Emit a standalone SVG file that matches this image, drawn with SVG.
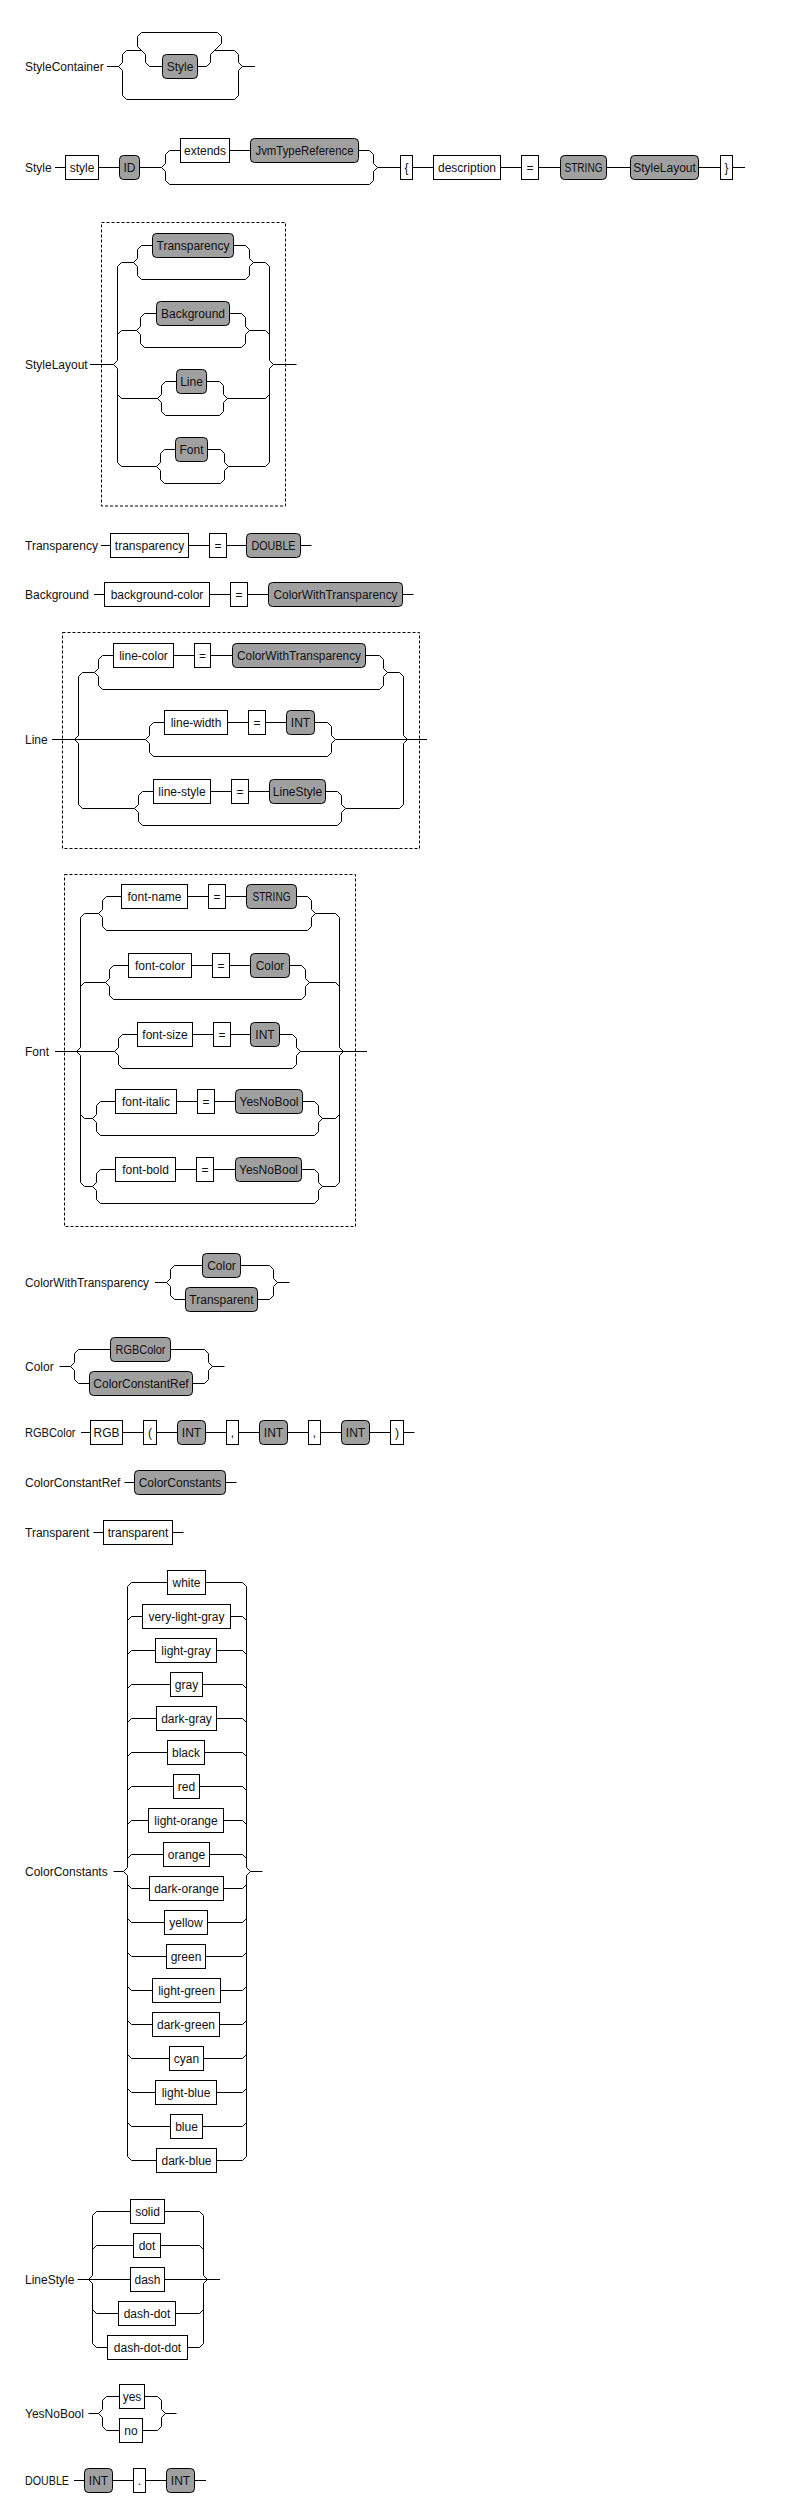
<svg xmlns="http://www.w3.org/2000/svg" width="786" height="2513" viewBox="0 0 786 2513">
<style>
text{font-family:"Liberation Sans",Arial,sans-serif;font-size:12px;fill:#111}
.m{text-anchor:middle}
.t{fill:#fff;stroke:#000;stroke-width:1}
.n{fill:#a0a0a0;stroke:#000;stroke-width:1}
.w{fill:none;stroke:#000;stroke-width:1}
.f{fill:none;stroke:#000;stroke-width:1;stroke-dasharray:3 2}
</style>
<rect x="0" y="0" width="786" height="2513" fill="#fff"/>
<g id="frames">
<rect class="f" x="101.5" y="222.5" width="184" height="283.5"/>
<rect class="f" x="62.5" y="632.5" width="357" height="216"/>
<rect class="f" x="64.5" y="874.5" width="291" height="352"/>
</g>
<g id="labels">
<text x="25" y="70.5">StyleContainer</text>
<text x="25" y="171.5">Style</text>
<text x="25" y="368.5">StyleLayout</text>
<text x="25" y="549.5">Transparency</text>
<text x="25" y="598.5">Background</text>
<text x="25" y="743.5">Line</text>
<text x="25" y="1055.5">Font</text>
<text x="25" y="1286.5" textLength="124" lengthAdjust="spacingAndGlyphs">ColorWithTransparency</text>
<text x="25" y="1370.5">Color</text>
<text x="25" y="1436.5" textLength="50.5" lengthAdjust="spacingAndGlyphs">RGBColor</text>
<text x="25" y="1486.5">ColorConstantRef</text>
<text x="25" y="1536.5">Transparent</text>
<text x="25" y="1875.5">ColorConstants</text>
<text x="25" y="2283.5">LineStyle</text>
<text x="25" y="2417.5">YesNoBool</text>
<text x="25" y="2484.5" textLength="44" lengthAdjust="spacingAndGlyphs">DOUBLE</text>
</g>
<g id="connectors" class="w">
<path class="w" d="M107,66.5 H118.5 L122.5,62.5 V54.5 L126.5,50.5 H141.5 M118.5,66.5 L122.5,70.5 V95.5 L126.5,99.5 H234.5 L238.5,95.5 V70.5 L242.5,66.5 H255 M141.5,32.5 L137.5,36.5 V46.5 L145.5,54.5 V62.5 L149.5,66.5 H206.5 L210.5,62.5 V54.5 L221.5,43.5 V36.5 L217.5,32.5 H141.5 M214.5,50.5 H234.5 L238.5,54.5 V62.5 L242.5,66.5"/>
<path class="w" d="M55,167.5 H161.5 M161.5,167.5 L165.5,163.5 V154.5 L169.5,150.5 H369.5 L373.5,154.5 V163.5 L377.5,167.5 H745 M161.5,167.5 L165.5,171.5 V180.5 L169.5,184.5 H369.5 L373.5,180.5 V171.5 L377.5,167.5"/>
<path class="w" d="M90,364.5 H113.5 L117.5,360.5 V266.5 L121.5,262.5 H133.5 L137.5,258.5 V249.5 L141.5,245.5 H245.5 L249.5,249.5 V258.5 L253.5,262.5 H265.5 L269.5,266.5 V360.5 L273.5,364.5 H296.5 M133.5,262.5 L137.5,266.5 V275.5 L141.5,279.5 H245.5 L249.5,275.5 V266.5 L253.5,262.5 M117.5,334.5 L121.5,330.5 H136.5 L140.5,326.5 V317.5 L144.5,313.5 H241.5 L245.5,317.5 V326.5 L249.5,330.5 H265.5 L269.5,334.5 M136.5,330.5 L140.5,334.5 V343.5 L144.5,347.5 H241.5 L245.5,343.5 V334.5 L249.5,330.5 M117.5,394.5 L121.5,398.5 H157.5 L161.5,394.5 V385.5 L165.5,381.5 H219.5 L223.5,385.5 V394.5 L227.5,398.5 H265.5 L269.5,394.5 M157.5,398.5 L161.5,402.5 V411.5 L165.5,415.5 H219.5 L223.5,411.5 V402.5 L227.5,398.5 M113.5,364.5 L117.5,368.5 V462.5 L121.5,466.5 H156.5 L160.5,462.5 V453.5 L164.5,449.5 H220.5 L224.5,453.5 V462.5 L228.5,466.5 H265.5 L269.5,462.5 V368.5 L273.5,364.5 M156.5,466.5 L160.5,470.5 V479.5 L164.5,483.5 H220.5 L224.5,479.5 V470.5 L228.5,466.5"/>
<path class="w" d="M101,545.5 H311.5 M94,594.5 H413.5"/>
<path class="w" d="M52,739.5 H74.5 L78.5,735.5 V676.5 L82.5,672.5 H94.5 L98.5,668.5 V659.5 L102.5,655.5 H379.5 L383.5,659.5 V668.5 L387.5,672.5 H399.5 L403.5,676.5 V735.5 L407.5,739.5 H427 M94.5,672.5 L98.5,676.5 V685.5 L102.5,689.5 H379.5 L383.5,685.5 V676.5 L387.5,672.5 M74.5,739.5 H145.5 L149.5,735.5 V726.5 L153.5,722.5 H327.5 L331.5,726.5 V735.5 L335.5,739.5 H407.5 M145.5,739.5 L149.5,743.5 V752.5 L153.5,756.5 H327.5 L331.5,752.5 V743.5 L335.5,739.5 M74.5,739.5 L78.5,743.5 V804.5 L82.5,808.5 H134.5 L138.5,804.5 V795.5 L142.5,791.5 H337.5 L341.5,795.5 V804.5 L345.5,808.5 H399.5 L403.5,804.5 V743.5 L407.5,739.5 M134.5,808.5 L138.5,812.5 V821.5 L142.5,825.5 H337.5 L341.5,821.5 V812.5 L345.5,808.5"/>
<path class="w" d="M55,1051.5 H76.5 L80.5,1047.5 V917.5 L84.5,913.5 H98.5 L102.5,909.5 V900.5 L106.5,896.5 H307.5 L311.5,900.5 V909.5 L315.5,913.5 H335.5 L339.5,917.5 V1047.5 L343.5,1051.5 H367 M98.5,913.5 L102.5,917.5 V926.5 L106.5,930.5 H307.5 L311.5,926.5 V917.5 L315.5,913.5 M80.5,986.5 L84.5,982.5 H105.5 L109.5,978.5 V969.5 L113.5,965.5 H301.5 L305.5,969.5 V978.5 L309.5,982.5 H335.5 L339.5,986.5 M105.5,982.5 L109.5,986.5 V995.5 L113.5,999.5 H301.5 L305.5,995.5 V986.5 L309.5,982.5 M76.5,1051.5 H114.5 L118.5,1047.5 V1038.5 L122.5,1034.5 H292.5 L296.5,1038.5 V1047.5 L300.5,1051.5 H343.5 M114.5,1051.5 L118.5,1055.5 V1064.5 L122.5,1068.5 H292.5 L296.5,1064.5 V1055.5 L300.5,1051.5 M80.5,1114.5 L84.5,1118.5 H92.5 L96.5,1114.5 V1105.5 L100.5,1101.5 H314.5 L318.5,1105.5 V1114.5 L322.5,1118.5 H335.5 L339.5,1114.5 M92.5,1118.5 L96.5,1122.5 V1131.5 L100.5,1135.5 H314.5 L318.5,1131.5 V1122.5 L322.5,1118.5 M76.5,1051.5 L80.5,1055.5 V1182.5 L84.5,1186.5 H92.5 L96.5,1182.5 V1173.5 L100.5,1169.5 H314.5 L318.5,1173.5 V1182.5 L322.5,1186.5 H335.5 L339.5,1182.5 V1055.5 L343.5,1051.5 M92.5,1186.5 L96.5,1190.5 V1199.5 L100.5,1203.5 H314.5 L318.5,1199.5 V1190.5 L322.5,1186.5"/>
<path class="w" d="M155,1282.5 H166.5 L170.5,1278.5 V1269.5 L174.5,1265.5 H269.5 L273.5,1269.5 V1278.5 L277.5,1282.5 H289.5 M166.5,1282.5 L170.5,1286.5 V1295.5 L174.5,1299.5 H269.5 L273.5,1295.5 V1286.5 L277.5,1282.5"/>
<path class="w" d="M59.5,1366.5 H70.5 L74.5,1362.5 V1353.5 L78.5,1349.5 H204.5 L208.5,1353.5 V1362.5 L212.5,1366.5 H224.5 M70.5,1366.5 L74.5,1370.5 V1379.5 L78.5,1383.5 H204.5 L208.5,1379.5 V1370.5 L212.5,1366.5"/>
<path class="w" d="M81,1432.5 H414.5 M124.5,1482.5 H236.5 M93.5,1532.5 H183.5"/>
<path class="w" d="M113.5,1871.5 H123.5 L127.5,1867.5 V1586.5 L131.5,1582.5 H242.5 L246.5,1586.5 V1867.5 L250.5,1871.5 H262.5 M123.5,1871.5 L127.5,1875.5 V2156.5 L131.5,2160.5 H242.5 L246.5,2156.5 V1875.5 L250.5,1871.5 M127.5,1620.5 L131.5,1616.5 H242.5 L246.5,1620.5 M127.5,1654.5 L131.5,1650.5 H242.5 L246.5,1654.5 M127.5,1688.5 L131.5,1684.5 H242.5 L246.5,1688.5 M127.5,1722.5 L131.5,1718.5 H242.5 L246.5,1722.5 M127.5,1756.5 L131.5,1752.5 H242.5 L246.5,1756.5 M127.5,1790.5 L131.5,1786.5 H242.5 L246.5,1790.5 M127.5,1824.5 L131.5,1820.5 H242.5 L246.5,1824.5 M127.5,1858.5 L131.5,1854.5 H242.5 L246.5,1858.5 M127.5,1884.5 L131.5,1888.5 H242.5 L246.5,1884.5 M127.5,1918.5 L131.5,1922.5 H242.5 L246.5,1918.5 M127.5,1952.5 L131.5,1956.5 H242.5 L246.5,1952.5 M127.5,1986.5 L131.5,1990.5 H242.5 L246.5,1986.5 M127.5,2020.5 L131.5,2024.5 H242.5 L246.5,2020.5 M127.5,2054.5 L131.5,2058.5 H242.5 L246.5,2054.5 M127.5,2088.5 L131.5,2092.5 H242.5 L246.5,2088.5 M127.5,2122.5 L131.5,2126.5 H242.5 L246.5,2122.5"/>
<path class="w" d="M77.5,2279.5 H220 M88.5,2279.5 L92.5,2275.5 V2215.5 L96.5,2211.5 H199.5 L203.5,2215.5 V2275.5 L207.5,2279.5 M88.5,2279.5 L92.5,2283.5 V2343.5 L96.5,2347.5 H199.5 L203.5,2343.5 V2283.5 L207.5,2279.5 M92.5,2249.5 L96.5,2245.5 H199.5 L203.5,2249.5 M92.5,2309.5 L96.5,2313.5 H199.5 L203.5,2309.5"/>
<path class="w" d="M88.5,2413.5 H98.5 L102.5,2409.5 V2400.5 L106.5,2396.5 H157.5 L161.5,2400.5 V2409.5 L165.5,2413.5 H176.5 M98.5,2413.5 L102.5,2417.5 V2426.5 L106.5,2430.5 H157.5 L161.5,2426.5 V2417.5 L165.5,2413.5 M74,2480.5 H206"/>
</g>
<g id="sc_style"><rect class="n" x="162.5" y="54.5" width="35" height="24" rx="4"/><text class="m" x="180" y="70.5">Style</text></g>
<g id="s_style"><rect class="t" x="65.5" y="155.5" width="33" height="24"/><text class="m" x="82" y="171.5">style</text></g>
<g id="s_id"><rect class="n" x="119.5" y="155.5" width="20" height="24" rx="4"/><text class="m" x="129.5" y="171.5">ID</text></g>
<g id="s_extends"><rect class="t" x="180.5" y="138.5" width="49" height="24"/><text class="m" x="205" y="154.5">extends</text></g>
<g id="s_jvm"><rect class="n" x="250.5" y="138.5" width="108" height="24" rx="4"/><text class="m" x="304.5" y="154.5" textLength="98" lengthAdjust="spacingAndGlyphs">JvmTypeReference</text></g>
<g id="s_lbrace"><rect class="t" x="400.5" y="155.5" width="12" height="24"/><text class="m" x="406.5" y="171.5">{</text></g>
<g id="s_desc"><rect class="t" x="433.5" y="155.5" width="67" height="24"/><text class="m" x="467" y="171.5">description</text></g>
<g id="s_eq"><rect class="t" x="521.5" y="155.5" width="17" height="24"/><text class="m" x="530" y="171.5">=</text></g>
<g id="s_string"><rect class="n" x="560.5" y="155.5" width="46" height="24" rx="4"/><text class="m" x="583.5" y="171.5" textLength="38" lengthAdjust="spacingAndGlyphs">STRING</text></g>
<g id="s_layout"><rect class="n" x="630.5" y="155.5" width="68" height="24" rx="4"/><text class="m" x="664.5" y="171.5">StyleLayout</text></g>
<g id="s_rbrace"><rect class="t" x="720.5" y="155.5" width="12" height="24"/><text class="m" x="726.5" y="171.5">}</text></g>
<g id="sl_transparency"><rect class="n" x="152.5" y="233.5" width="81" height="24" rx="4"/><text class="m" x="193" y="249.5">Transparency</text></g>
<g id="sl_background"><rect class="n" x="156.5" y="301.5" width="73" height="24" rx="4"/><text class="m" x="193" y="317.5">Background</text></g>
<g id="sl_line"><rect class="n" x="176.5" y="369.5" width="30" height="24" rx="4"/><text class="m" x="191.5" y="385.5">Line</text></g>
<g id="sl_font"><rect class="n" x="175.5" y="437.5" width="32" height="24" rx="4"/><text class="m" x="191.5" y="453.5">Font</text></g>
<g id="tr_kw"><rect class="t" x="110.5" y="533.5" width="78" height="24"/><text class="m" x="149.5" y="549.5">transparency</text></g>
<g id="tr_eq"><rect class="t" x="209.5" y="533.5" width="17" height="24"/><text class="m" x="218" y="549.5">=</text></g>
<g id="tr_double"><rect class="n" x="246.5" y="533.5" width="54" height="24" rx="4"/><text class="m" x="273.5" y="549.5" textLength="44" lengthAdjust="spacingAndGlyphs">DOUBLE</text></g>
<g id="bg_kw"><rect class="t" x="104.5" y="582.5" width="105" height="24"/><text class="m" x="157" y="598.5">background-color</text></g>
<g id="bg_eq"><rect class="t" x="230.5" y="582.5" width="17" height="24"/><text class="m" x="239" y="598.5">=</text></g>
<g id="bg_cwt"><rect class="n" x="268.5" y="582.5" width="134" height="24" rx="4"/><text class="m" x="335.5" y="598.5" textLength="124" lengthAdjust="spacingAndGlyphs">ColorWithTransparency</text></g>
<g id="ln_color"><rect class="t" x="113.5" y="643.5" width="60" height="24"/><text class="m" x="143.5" y="659.5">line-color</text></g>
<g id="ln_eq1"><rect class="t" x="194.5" y="643.5" width="16" height="24"/><text class="m" x="202.5" y="659.5">=</text></g>
<g id="ln_cwt"><rect class="n" x="232.5" y="643.5" width="133" height="24" rx="4"/><text class="m" x="299" y="659.5" textLength="124" lengthAdjust="spacingAndGlyphs">ColorWithTransparency</text></g>
<g id="ln_width"><rect class="t" x="164.5" y="710.5" width="63" height="24"/><text class="m" x="196" y="726.5">line-width</text></g>
<g id="ln_eq2"><rect class="t" x="248.5" y="710.5" width="17" height="24"/><text class="m" x="257" y="726.5">=</text></g>
<g id="ln_int"><rect class="n" x="286.5" y="710.5" width="28" height="24" rx="4"/><text class="m" x="300.5" y="726.5">INT</text></g>
<g id="ln_style"><rect class="t" x="153.5" y="779.5" width="57" height="24"/><text class="m" x="182" y="795.5">line-style</text></g>
<g id="ln_eq3"><rect class="t" x="231.5" y="779.5" width="17" height="24"/><text class="m" x="240" y="795.5">=</text></g>
<g id="ln_ls"><rect class="n" x="269.5" y="779.5" width="56" height="24" rx="4"/><text class="m" x="297.5" y="795.5">LineStyle</text></g>
<g id="f_name"><rect class="t" x="121.5" y="884.5" width="66" height="24"/><text class="m" x="154.5" y="900.5">font-name</text></g>
<g id="f_eq1"><rect class="t" x="208.5" y="884.5" width="17" height="24"/><text class="m" x="217" y="900.5">=</text></g>
<g id="f_string"><rect class="n" x="246.5" y="884.5" width="50" height="24" rx="4"/><text class="m" x="271.5" y="900.5" textLength="38" lengthAdjust="spacingAndGlyphs">STRING</text></g>
<g id="f_color"><rect class="t" x="128.5" y="953.5" width="63" height="24"/><text class="m" x="160" y="969.5">font-color</text></g>
<g id="f_eq2"><rect class="t" x="212.5" y="953.5" width="17" height="24"/><text class="m" x="221" y="969.5">=</text></g>
<g id="f_colornt"><rect class="n" x="250.5" y="953.5" width="39" height="24" rx="4"/><text class="m" x="270" y="969.5">Color</text></g>
<g id="f_size"><rect class="t" x="137.5" y="1022.5" width="55" height="24"/><text class="m" x="165" y="1038.5">font-size</text></g>
<g id="f_eq3"><rect class="t" x="213.5" y="1022.5" width="17" height="24"/><text class="m" x="222" y="1038.5">=</text></g>
<g id="f_int"><rect class="n" x="250.5" y="1022.5" width="29" height="24" rx="4"/><text class="m" x="265" y="1038.5">INT</text></g>
<g id="f_italic"><rect class="t" x="115.5" y="1089.5" width="61" height="24"/><text class="m" x="146" y="1105.5">font-italic</text></g>
<g id="f_eq4"><rect class="t" x="197.5" y="1089.5" width="17" height="24"/><text class="m" x="206" y="1105.5">=</text></g>
<g id="f_yn1"><rect class="n" x="235.5" y="1089.5" width="67" height="24" rx="4"/><text class="m" x="269" y="1105.5">YesNoBool</text></g>
<g id="f_bold"><rect class="t" x="115.5" y="1157.5" width="60" height="24"/><text class="m" x="145.5" y="1173.5">font-bold</text></g>
<g id="f_eq5"><rect class="t" x="196.5" y="1157.5" width="17" height="24"/><text class="m" x="205" y="1173.5">=</text></g>
<g id="f_yn2"><rect class="n" x="235.5" y="1157.5" width="66" height="24" rx="4"/><text class="m" x="268.5" y="1173.5">YesNoBool</text></g>
<g id="cwt_color"><rect class="n" x="202.5" y="1253.5" width="38" height="24" rx="4"/><text class="m" x="221.5" y="1269.5">Color</text></g>
<g id="cwt_transparent"><rect class="n" x="185.5" y="1287.5" width="72" height="24" rx="4"/><text class="m" x="221.5" y="1303.5">Transparent</text></g>
<g id="c_rgb"><rect class="n" x="110.5" y="1337.5" width="60" height="24" rx="4"/><text class="m" x="140.5" y="1353.5" textLength="50" lengthAdjust="spacingAndGlyphs">RGBColor</text></g>
<g id="c_ccr"><rect class="n" x="89.5" y="1371.5" width="103" height="24" rx="4"/><text class="m" x="141" y="1387.5">ColorConstantRef</text></g>
<g id="rgb_kw"><rect class="t" x="90.5" y="1420.5" width="32" height="24"/><text class="m" x="106.5" y="1436.5">RGB</text></g>
<g id="rgb_lp"><rect class="t" x="143.5" y="1420.5" width="13" height="24"/><text class="m" x="150" y="1436.5">(</text></g>
<g id="rgb_i1"><rect class="n" x="177.5" y="1420.5" width="28" height="24" rx="4"/><text class="m" x="191.5" y="1436.5">INT</text></g>
<g id="rgb_c1"><rect class="t" x="226.5" y="1420.5" width="12" height="24"/><text class="m" x="232.5" y="1436.5">,</text></g>
<g id="rgb_i2"><rect class="n" x="259.5" y="1420.5" width="28" height="24" rx="4"/><text class="m" x="273.5" y="1436.5">INT</text></g>
<g id="rgb_c2"><rect class="t" x="308.5" y="1420.5" width="12" height="24"/><text class="m" x="314.5" y="1436.5">,</text></g>
<g id="rgb_i3"><rect class="n" x="341.5" y="1420.5" width="28" height="24" rx="4"/><text class="m" x="355.5" y="1436.5">INT</text></g>
<g id="rgb_rp"><rect class="t" x="390.5" y="1420.5" width="13" height="24"/><text class="m" x="397" y="1436.5">)</text></g>
<g id="ccr_cc"><rect class="n" x="134.5" y="1470.5" width="91" height="24" rx="4"/><text class="m" x="180" y="1486.5">ColorConstants</text></g>
<g id="tp_kw"><rect class="t" x="103.5" y="1520.5" width="69" height="24"/><text class="m" x="138" y="1536.5">transparent</text></g>
<g id="cc_white"><rect class="t" x="167.5" y="1570.5" width="38" height="24"/><text class="m" x="186.5" y="1586.5">white</text></g>
<g id="cc_verylightgray"><rect class="t" x="142.5" y="1604.5" width="88" height="24"/><text class="m" x="186.5" y="1620.5">very-light-gray</text></g>
<g id="cc_lightgray"><rect class="t" x="155.5" y="1638.5" width="61" height="24"/><text class="m" x="186" y="1654.5">light-gray</text></g>
<g id="cc_gray"><rect class="t" x="170.5" y="1672.5" width="32" height="24"/><text class="m" x="186.5" y="1688.5">gray</text></g>
<g id="cc_darkgray"><rect class="t" x="156.5" y="1706.5" width="60" height="24"/><text class="m" x="186.5" y="1722.5">dark-gray</text></g>
<g id="cc_black"><rect class="t" x="167.5" y="1740.5" width="37" height="24"/><text class="m" x="186" y="1756.5">black</text></g>
<g id="cc_red"><rect class="t" x="173.5" y="1774.5" width="26" height="24"/><text class="m" x="186.5" y="1790.5">red</text></g>
<g id="cc_lightorange"><rect class="t" x="148.5" y="1808.5" width="75" height="24"/><text class="m" x="186" y="1824.5">light-orange</text></g>
<g id="cc_orange"><rect class="t" x="163.5" y="1842.5" width="46" height="24"/><text class="m" x="186.5" y="1858.5">orange</text></g>
<g id="cc_darkorange"><rect class="t" x="149.5" y="1876.5" width="74" height="24"/><text class="m" x="186.5" y="1892.5">dark-orange</text></g>
<g id="cc_yellow"><rect class="t" x="164.5" y="1910.5" width="43" height="24"/><text class="m" x="186" y="1926.5">yellow</text></g>
<g id="cc_green"><rect class="t" x="166.5" y="1944.5" width="39" height="24"/><text class="m" x="186" y="1960.5">green</text></g>
<g id="cc_lightgreen"><rect class="t" x="152.5" y="1978.5" width="68" height="24"/><text class="m" x="186.5" y="1994.5">light-green</text></g>
<g id="cc_darkgreen"><rect class="t" x="152.5" y="2012.5" width="67" height="24"/><text class="m" x="186" y="2028.5">dark-green</text></g>
<g id="cc_cyan"><rect class="t" x="169.5" y="2046.5" width="34" height="24"/><text class="m" x="186.5" y="2062.5">cyan</text></g>
<g id="cc_lightblue"><rect class="t" x="155.5" y="2080.5" width="61" height="24"/><text class="m" x="186" y="2096.5">light-blue</text></g>
<g id="cc_blue"><rect class="t" x="170.5" y="2114.5" width="32" height="24"/><text class="m" x="186.5" y="2130.5">blue</text></g>
<g id="cc_darkblue"><rect class="t" x="156.5" y="2148.5" width="60" height="24"/><text class="m" x="186.5" y="2164.5">dark-blue</text></g>
<g id="ls_solid"><rect class="t" x="130.5" y="2199.5" width="34" height="24"/><text class="m" x="147.5" y="2215.5">solid</text></g>
<g id="ls_dot"><rect class="t" x="133.5" y="2233.5" width="27" height="24"/><text class="m" x="147" y="2249.5">dot</text></g>
<g id="ls_dash"><rect class="t" x="130.5" y="2267.5" width="34" height="24"/><text class="m" x="147.5" y="2283.5">dash</text></g>
<g id="ls_dashdot"><rect class="t" x="118.5" y="2301.5" width="57" height="24"/><text class="m" x="147" y="2317.5">dash-dot</text></g>
<g id="ls_dashdotdot"><rect class="t" x="107.5" y="2335.5" width="80" height="24"/><text class="m" x="147.5" y="2351.5">dash-dot-dot</text></g>
<g id="yn_yes"><rect class="t" x="119.5" y="2384.5" width="25" height="24"/><text class="m" x="132" y="2400.5">yes</text></g>
<g id="yn_no"><rect class="t" x="119.5" y="2418.5" width="23" height="24"/><text class="m" x="131" y="2434.5">no</text></g>
<g id="d_int1"><rect class="n" x="84.5" y="2468.5" width="28" height="24" rx="4"/><text class="m" x="98.5" y="2484.5">INT</text></g>
<g id="d_dot"><rect class="t" x="133.5" y="2468.5" width="12" height="24"/><text class="m" x="139.5" y="2484.5">.</text></g>
<g id="d_int2"><rect class="n" x="166.5" y="2468.5" width="28" height="24" rx="4"/><text class="m" x="180.5" y="2484.5">INT</text></g>
</svg>
